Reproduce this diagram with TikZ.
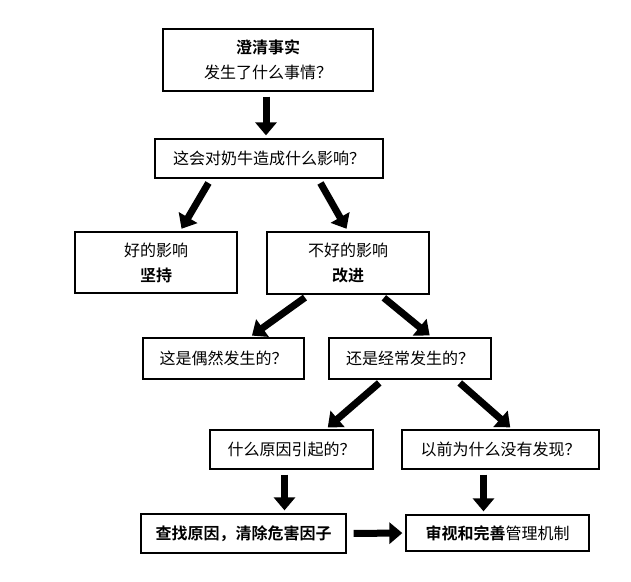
\documentclass[tikz,border=0pt]{standalone}
\usepackage{fontspec}
\newfontfamily\cjk{Noto Sans CJK SC}[BoldFont={Noto Sans CJK SC Bold}]
\usepackage{tikz}
\usetikzlibrary{arrows.meta,calc}

\begin{document}
\begin{tikzpicture}[x=1pt,y=-1pt,
  font=\cjk\fontsize{16}{25}\selectfont,
  box/.style={draw,line width=1.3pt,inner sep=2pt,align=center},
  bigarrow/.style={line width=7pt,-{Triangle[length=13pt,width=21pt]},shorten <=5pt,shorten >=3pt}]
\useasboundingbox (0,0) rectangle (631,581);
\node[box,minimum width=210pt,minimum height=62pt] at (268,60) (fact) {\textbf{澄清事实}\\发生了什么事情？};
\node[box,minimum width=228pt,minimum height=39pt] at (269,158.5) (impact) {这会对奶牛造成什么影响？};
\node[box,minimum width=162pt,minimum height=61pt] at (156,262.5) (good) {好的影响\\\textbf{坚持}};
\node[box,minimum width=162pt,minimum height=62pt] at (348,263) (bad) {不好的影响\\\textbf{改进}};
\node[box,minimum width=161pt,minimum height=41pt] at (223.5,358.5) (occ) {这是偶然发生的？};
\node[box,minimum width=162pt,minimum height=41pt] at (410,358.5) (freq) {还是经常发生的？};
\node[box,minimum width=163pt,minimum height=39pt] at (291.5,449.5) (cause) {什么原因引起的？};
\node[box,minimum width=197pt,minimum height=39pt] at (500.5,449.5) (notice) {以前为什么没有发现？};
\node[box,minimum width=205pt,minimum height=39pt] at (243.5,533.5) (remove) {\textbf{查找原因，清除危害因子}};
\node[box,minimum width=183pt,minimum height=36pt] at (497.5,533) (review) {\textbf{审视和完善}管理机制};
\draw[bigarrow] ([xshift=-2pt]fact.south) -- ([xshift=-2pt]fact.south |- impact.north);
\draw[bigarrow] ([xshift=-58pt]impact.south) -- ([xshift=24pt]good.north);
\draw[bigarrow] ([xshift=49pt]impact.south) -- (bad.north);
\draw[bigarrow] ([xshift=-39pt]bad.south) -- ([xshift=26pt]occ.north);
\draw[bigarrow] ([xshift=32pt]bad.south) -- ([xshift=22pt]freq.north);
\draw[bigarrow] ([xshift=-27pt]freq.south) -- ([xshift=34pt]cause.north);
\draw[bigarrow] ([xshift=46pt]freq.south) -- ([xshift=12pt]notice.north);
\draw[bigarrow] ([xshift=-7pt]cause.south) -- ([xshift=-7pt]cause.south |- remove.north);
\draw[bigarrow] ([xshift=-17pt]notice.south) -- ([xshift=-17pt]notice.south |- review.north);
\draw[bigarrow,shorten <=7pt] (remove.east) -- (review.west);
\end{tikzpicture}
\end{document}
